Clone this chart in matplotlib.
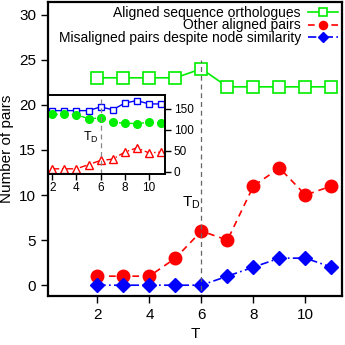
import matplotlib
matplotlib.use("Agg")
import matplotlib.pyplot as plt

plt.rcParams["font.family"] = ["Liberation Sans", "DejaVu Sans"]

# main panel data
T = [2, 3, 4, 5, 6, 7, 8, 9, 10, 11]
orthologues = [23, 23, 23, 23, 24, 22, 22, 22, 22, 22]
other_pairs = [1, 1, 1, 3, 6, 5, 11, 13, 10, 11]
misaligned = [0, 0, 0, 0, 0, 1, 2, 3, 3, 2]

# inset data
inset_blue = [146, 146, 146, 146, 155, 148, 164, 170, 162, 162]
inset_green = [137, 137, 136, 127, 128, 118, 116, 115, 118, 116]
inset_red = [7, 7, 7, 17, 27, 30, 47, 57, 45, 47]

T_D = 6

fig = plt.figure(figsize=(3.45, 3.45), dpi=100)
ax = fig.add_axes([0.139, 0.142, 0.852, 0.852])

ax.plot(T, orthologues, color="#00ee00", ls="-", lw=1.2, marker="s",
        ms=8, mfc="white", mec="#00ee00", mew=1.2,
        label="Aligned sequence orthologues")
ax.plot(T, other_pairs, color="red", ls=(0, (4, 3)), lw=1.2, marker="o",
        ms=9, mec="red", label="Other aligned pairs")
ax.plot(T, misaligned, color="blue", ls=(0, (5, 2, 1, 2)), lw=1.2,
        marker="D", ms=7.5, mec="blue",
        label="Misaligned pairs despite node similarity")
ax.plot([T_D, T_D], [-1.5, 25], color="#666666", ls=(0, (4, 3)), lw=0.9)
ax.text(T_D - 0.05, 9.1, "T$_\\mathregular{D}$", ha="right", va="center",
        fontsize=11)

ax.set_xlim(0.1, 11.4)
ax.set_ylim(-1.2, 31.4)
ax.set_xticks([2, 4, 6, 8, 10])
ax.set_yticks([0, 5, 10, 15, 20, 25, 30])
ax.tick_params(labelsize=11, width=1, length=5, direction="out")
ax.set_xlabel("T", fontsize=11, labelpad=4)
ax.set_ylabel("Number of pairs", fontsize=11, labelpad=4)
for s in ax.spines.values():
    s.set_linewidth(1.6)

leg = ax.legend(loc="upper right", frameon=False, fontsize=10,
                markerfirst=False, handlelength=2.2, handletextpad=0.5,
                labelspacing=-0.08, borderaxespad=0.0, borderpad=0.25,
                markerscale=0.65)
for t in leg.get_texts():
    t.set_ha("right")

# inset
ins = fig.add_axes([0.14, 0.497, 0.339, 0.227])
ins.plot(T, inset_blue, color="blue", ls="-", lw=1, marker="s", ms=4.5,
         mfc="white", mec="blue", mew=1)
ins.plot(T, inset_green, color="#00ee00", ls=(0, (4, 3)), lw=1,
         marker="o", ms=5.5, mec="#00ee00")
ins.plot(T, inset_red, color="red", ls=(0, (5, 2, 1, 2)), lw=1,
         marker="^", ms=5.5, mfc="white", mec="red", mew=1)
ins.axvline(T_D, color="#888888", ls=(0, (4, 3)), lw=0.9)
ins.text(T_D - 0.2, 83, "T$_\\mathregular{D}$", ha="right", va="center",
         fontsize=9)
ins.set_xlim(1.67, 11.35)
ins.set_ylim(-4.3, 182.8)
ins.set_xticks([2, 4, 6, 8, 10])
ins.set_yticks([0, 50, 100, 150])
ins.yaxis.tick_right()
ins.tick_params(labelsize=8.5, width=1, length=4, direction="out", pad=2)
for s in ins.spines.values():
    s.set_linewidth(1.4)

fig.savefig("out.png", dpi=100)
